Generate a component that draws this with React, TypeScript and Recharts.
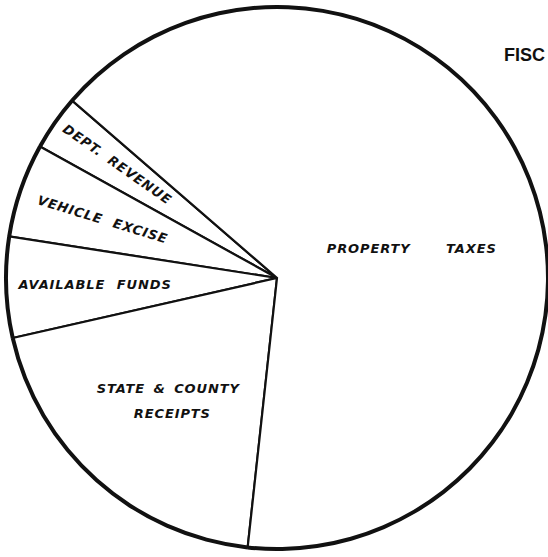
import React from 'react';
import { PieChart, Pie, Cell } from 'recharts';

// Revenue sources (share of total, %)
const categories = ['DEPT. REVENUE', 'VEHICLE EXCISE', 'AVAILABLE FUNDS', 'STATE & COUNTY RECEIPTS', 'PROPERTY TAXES'];
const shares = [3.3, 5.6, 6.0, 19.7, 65.3];
const labelLines = [['DEPT. REVENUE'], ['VEHICLE EXCISE'], ['AVAILABLE FUNDS'], ['STATE & COUNTY', 'RECEIPTS'], ['PROPERTY TAXES']];
const titleText = 'FISC';

const data = categories.map((name, i) => ({ name, value: shares[i] }));

// label placement (polar radius, polar angle in degrees, text rotation)
const labelLayout = [
  { r: 196, a: 144.4, rot: 35, ws: 4 },
  { r: 184, a: 161.3, rot: 17, ws: 6 },
  { r: 182, a: 181.9, rot: 0, ws: 6 },
  { r: 164, a: 228.5, rot: 0, ws: 3 },
  { r: 138, a: 12.5, rot: 0, ws: 30 },
];

const START = 139.1;
const INK = '#111';

const renderLabel = (props: any) => {
  const { cx, cy, index } = props;
  const L = labelLayout[index];
  const rad = (L.a * Math.PI) / 180;
  const x = cx + L.r * Math.cos(rad);
  const y = cy - L.r * Math.sin(rad);
  const lines = labelLines[index];
  const lh = 25;
  const y0 = y - ((lines.length - 1) * lh) / 2;
  return (
    <text
      key={`lbl-${index}`}
      x={x}
      y={y0}
      textAnchor="middle"
      dominantBaseline="central"
      transform={`rotate(${L.rot} ${x} ${y})`}
      fontFamily="'DejaVu Sans', sans-serif"
      fontSize={13}
      fontWeight="bold"
      fontStyle="italic"
      letterSpacing={0.9}
      wordSpacing={L.ws}
      fill={INK}
    >
      {lines.map((t, k) => (
        <tspan key={k} x={x + (k === 1 ? 4 : 0)} y={y0 + k * lh}>
          {t}
        </tspan>
      ))}
    </text>
  );
};

export default function App() {
  return (
    <div style={{ position: 'absolute', left: 0, top: 0, width: 548, height: 557, background: '#fff', overflow: 'hidden' }}>
      <PieChart width={548} height={557} margin={{ top: 0, right: 0, bottom: 0, left: 0 }}>
        <Pie
          data={data}
          dataKey="value"
          cx={277}
          cy={278}
          innerRadius={0}
          outerRadius={271}
          startAngle={START}
          endAngle={START + 360}
          stroke={INK}
          strokeWidth={2.2}
          label={renderLabel}
          labelLine={false}
          isAnimationActive={false}
        >
          {data.map((d) => (
            <Cell key={d.name} fill="#fff" />
          ))}
        </Pie>
        <Pie
          data={data}
          dataKey="value"
          cx={277}
          cy={278}
          innerRadius={269}
          outerRadius={273}
          startAngle={START}
          endAngle={START + 360}
          stroke="none"
          fill={INK}
          isAnimationActive={false}
        />
      </PieChart>
      <div
        style={{
          position: 'absolute',
          left: 504,
          top: 46,
          fontFamily: "'Liberation Sans', Arial, sans-serif",
          fontWeight: 'bold',
          fontSize: 18,
          lineHeight: '18px',
          letterSpacing: 0,
          color: INK,
          whiteSpace: 'nowrap',
        }}
      >
        {titleText}
      </div>
    </div>
  );
}
